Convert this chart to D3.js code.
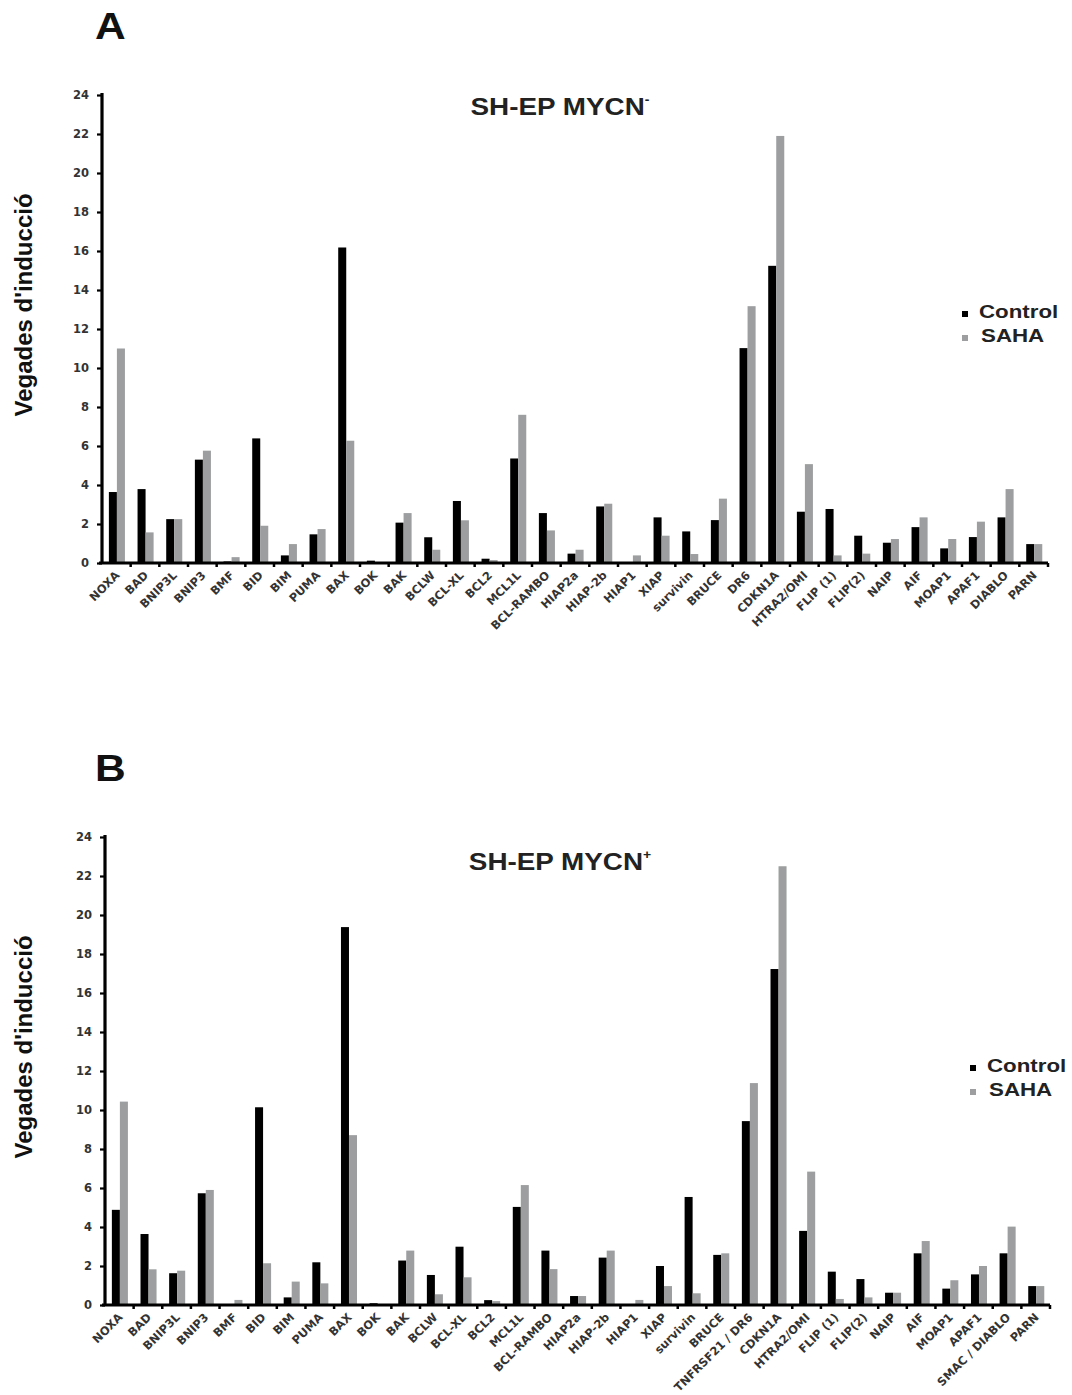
<!DOCTYPE html>
<html>
<head>
<meta charset="utf-8">
<title>SH-EP MYCN - SAHA induction</title>
<style>
  body { margin: 0; background: #fff; }
  svg text { font-family: "Liberation Sans", Arial, sans-serif; }
  .tick-lbl { font-family: "DejaVu Sans", sans-serif; font-weight: bold; font-size: 11.5px; fill: #333; }
  .cat-lbl { font-family: "DejaVu Sans", sans-serif; font-weight: bold; font-size: 11.5px; fill: #333; }
</style>
</head>
<body>
<svg id="chart"></svg>
<script src="https://cdn.jsdelivr.net/npm/d3@7"></script>
<script>
// ---- data ----
var categoriesA = ["NOXA","BAD","BNIP3L","BNIP3","BMF","BID","BIM","PUMA","BAX","BOK","BAK","BCLW","BCL-XL","BCL2","MCL1L","BCL-RAMBO","HIAP2a","HIAP-2b","HIAP1","XIAP","survivin","BRUCE","DR6","CDKN1A","HTRA2/OMI","FLIP (1)","FLIP(2)","NAIP","AIF","MOAP1","APAF1","DIABLO","PARN"];
var categoriesB = ["NOXA","BAD","BNIP3L","BNIP3","BMF","BID","BIM","PUMA","BAX","BOK","BAK","BCLW","BCL-XL","BCL2","MCL1L","BCL-RAMBO","HIAP2a","HIAP-2b","HIAP1","XIAP","survivin","BRUCE","TNFRSF21 / DR6","CDKN1A","HTRA2/OMI","FLIP (1)","FLIP(2)","NAIP","AIF","MOAP1","APAF1","SMAC / DIABLO","PARN"];

var controlA = [3.64,3.79,2.25,5.3,0.08,6.39,0.39,1.47,16.18,0.12,2.07,1.32,3.18,0.22,5.36,2.56,0.48,2.9,0.02,2.34,1.62,2.2,11.02,15.24,2.63,2.77,1.4,1.04,1.84,0.75,1.33,2.34,0.97];
var sahaA    = [11.0,1.57,2.25,5.76,0.3,1.91,0.97,1.74,6.27,0.05,2.56,0.68,2.19,0.15,7.6,1.67,0.68,3.04,0.39,1.4,0.46,3.3,13.17,21.9,5.07,0.39,0.48,1.23,2.34,1.23,2.12,3.79,0.97];

var controlB = [4.88,3.64,1.63,5.73,0.05,10.14,0.39,2.19,19.38,0.09,2.28,1.54,2.99,0.25,5.03,2.79,0.46,2.43,0.02,2.0,5.54,2.57,9.43,17.23,3.8,1.71,1.33,0.63,2.65,0.84,1.57,2.65,0.97];
var sahaB    = [10.43,1.83,1.76,5.9,0.26,2.14,1.2,1.11,8.71,0.05,2.79,0.55,1.42,0.2,6.15,1.84,0.46,2.79,0.26,0.97,0.6,2.65,11.38,22.5,6.84,0.31,0.39,0.63,3.28,1.27,2.0,4.02,0.97];

var series = ["Control","SAHA"];
var seriesColors = ["#000000","#9c9e9f"];
var yTicks = [0,2,4,6,8,10,12,14,16,18,20,22,24];

var svg = d3.select("#chart").attr("width", 1072).attr("height", 1395);

function drawPanel(p) {
    var g = svg.append("g");

    var x = d3.scaleBand().domain(p.cats).range([p.x0, p.x1]).padding(0);
    var step = x.step();
    var xs = d3.scaleBand().domain(series).range([step * 0.24, step * 0.8]).padding(0);
    var y = d3.scaleLinear().domain([0, 24]).range([p.yZero, p.yTop]);

    var rows = p.cats.map(function(c, i) {
        return { cat: c, vals: [p.ctrl[i], p.saha[i]] };
    });

    // bars
    var grp = g.selectAll(".grp").data(rows).enter().append("g")
        .attr("transform", function(d) { return "translate(" + x(d.cat) + ",0)"; });
    grp.selectAll("rect")
        .data(function(d) { return d.vals.map(function(v, k) { return { s: series[k], v: v, k: k }; }); })
        .enter().append("rect")
        .attr("x", function(d) { return xs(d.s); })
        .attr("width", xs.bandwidth())
        .attr("y", function(d) { return y(d.v); })
        .attr("height", function(d) { return y(0) - y(d.v); })
        .attr("fill", function(d) { return seriesColors[d.k]; });

    // y axis
    var yAxis = d3.axisLeft(y).tickValues(yTicks).tickSize(5).tickPadding(8);
    var ya = g.append("g").attr("transform", "translate(" + p.x0 + ",0)").call(yAxis);
    ya.select(".domain").attr("stroke", "#000").attr("stroke-width", 3.2)
        .attr("d", "M0," + (p.yTop - 2) + "V" + p.yZero);
    ya.selectAll(".tick line").attr("stroke", "#000").attr("stroke-width", 2.2);
    ya.selectAll(".tick text").attr("class", "tick-lbl").attr("font-family", null).attr("font-size", null).attr("fill", null);

    // x axis: line plus small ticks between the groups
    var xa = g.append("g").attr("transform", "translate(0," + p.yZero + ")");
    xa.append("line").attr("x1", p.x0 - 3).attr("x2", p.x1)
        .attr("stroke", "#000").attr("stroke-width", 3.2);
    xa.selectAll(".xt").data(p.cats).enter().append("line")
        .attr("x1", function(d) { return x(d) + step; })
        .attr("x2", function(d) { return x(d) + step; })
        .attr("y1", 0).attr("y2", 4)
        .attr("stroke", "#000").attr("stroke-width", 2.5);

    g.selectAll(".cat-lbl").data(p.cats).enter().append("text")
        .attr("class", "cat-lbl")
        .attr("text-anchor", "end")
        .attr("transform", function(d) {
            return "translate(" + (x(d) + step / 2 + 4) + "," + (p.yZero + 13) + ") rotate(-45)";
        })
        .text(function(d) { return d; });

    // panel letter
    g.append("text").attr("transform", "translate(" + p.letterX + "," + p.letterY + ") scale(1.15,1)")
        .attr("font-size", 37).attr("font-weight", "bold").attr("fill", "#111")
        .text(p.letter);

    // title
    var t = g.append("text").attr("transform", "translate(" + p.titleX + "," + p.titleY + ") scale(1.16,1)")
        .attr("text-anchor", "middle").attr("font-size", 24).attr("font-weight", "bold").attr("fill", "#222");
    t.append("tspan").text(p.title);
    t.append("tspan").attr("dy", -11).attr("font-size", 12).text(p.sup);

    // y label
    g.append("text")
        .attr("transform", "translate(" + 32 + "," + (p.yZero - 258) + ") rotate(-90)")
        .attr("text-anchor", "middle").attr("font-size", 24).attr("font-weight", "bold").attr("fill", "#111")
        .text("Vegades d'inducció");

    // legend
    var lg = g.append("g").attr("transform", "translate(" + p.legX + "," + p.legY + ")");
    series.forEach(function(s, k) {
        lg.append("rect").attr("x", 0).attr("y", k * 24 - 7).attr("width", 6).attr("height", 6)
            .attr("fill", seriesColors[k]);
        lg.append("text").attr("transform", "translate(" + (k === 0 ? 17 : 19) + "," + (k * 24) + ") scale(1.24,1)")
            .attr("font-size", 18).attr("font-weight", "bold").attr("fill", "#222")
            .text(s);
    });
}

drawPanel({
    cats: categoriesA, ctrl: controlA, saha: sahaA,
    x0: 102, x1: 1048, yTop: 95, yZero: 563,
    letter: "A", letterX: 95, letterY: 39,
    title: "SH-EP MYCN", sup: "-", titleX: 560, titleY: 115,
    legX: 962, legY: 318
});

drawPanel({
    cats: categoriesB, ctrl: controlB, saha: sahaB,
    x0: 105, x1: 1050, yTop: 837, yZero: 1305,
    letter: "B", letterX: 95, letterY: 781,
    title: "SH-EP MYCN", sup: "+", titleX: 560, titleY: 870,
    legX: 970, legY: 1072
});
</script>
</body>
</html>
